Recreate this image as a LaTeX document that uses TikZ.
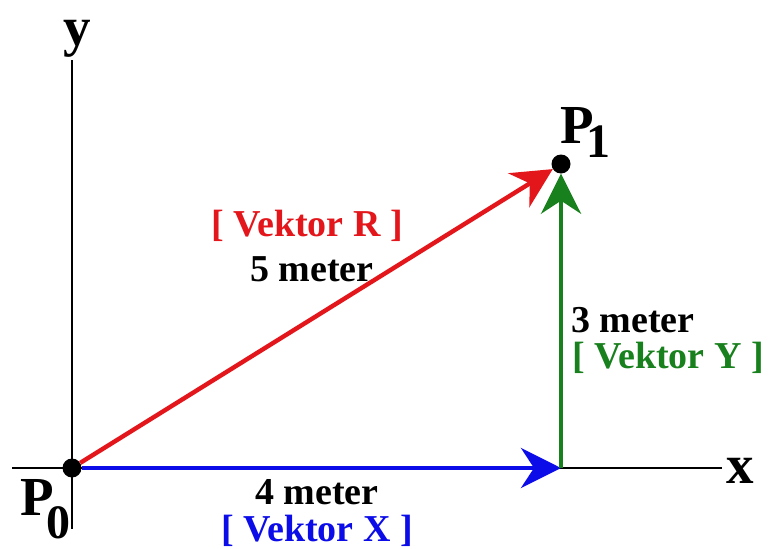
\documentclass[tikz,border=0pt]{standalone}
\usepackage{fontspec}
\setmainfont{Liberation Serif}
\usetikzlibrary{arrows.meta,positioning}
\definecolor{vecred}{HTML}{E3161B}
\definecolor{vecgreen}{HTML}{18801C}
\definecolor{vecblue}{HTML}{0C0CE8}

\begin{document}
\begin{tikzpicture}[
  x=1pt, y=-1pt,
  >={Stealth[length=40pt,width=40pt,inset=13pt]},
  axis/.style={draw=black, line width=2.8pt},
  vec/.style={->, line width=4.4pt},
  dot/.style={circle, fill=black, inner sep=0pt, minimum size=19pt},
  lbl/.style={font=\fontsize{38}{40}\selectfont\bfseries, inner sep=0pt},
  pnt/.style={font=\fontsize{55}{58}\selectfont\bfseries, inner sep=0pt}
]
  \useasboundingbox (0,0) rectangle (772,549);

  % axes
  \coordinate (xl) at (12,468);
  \coordinate (xr) at (722,468);
  \coordinate (yt) at (72,60);
  \coordinate (yb) at (72,529);
  \draw[axis] (xl) -- (xr);
  \draw[axis] (yt) -- (yb);
  \node[pnt, anchor=base west] (xlab) at (726,483) {x};
  \node[pnt, anchor=base west] (ylab) at (63,45) {y};

  % points
  \node[dot] (p0) at (72,468) {};
  \node[dot] (p1) at (561,164) {};
  \coordinate (q) at (561,468);
  \node[pnt, anchor=base west] (p0lab) at (20,515) {P\kern-7pt\raisebox{-23pt}{\fontsize{48}{50}\selectfont 0}};
  \node[pnt, anchor=base west] (p1lab) at (560,143) {P\kern-7pt\raisebox{-14pt}{\fontsize{48}{50}\selectfont 1}};

  % vectors
  \draw[vec, vecblue] (p0) -- (q);
  \draw[vec, vecgreen] (q) -- (p1);
  \draw[vec, vecred] (p0) -- (p1);

  % labels
  \node[lbl, text=vecred, anchor=base] (rname) at (307,236) {[ Vektor R ]};
  \node[lbl, anchor=base] (rlen) at (312,281) {5 meter};
  \node[lbl, anchor=base west] (ylen) at (571,332) {3 meter};
  \node[lbl, text=vecgreen, anchor=base west] (yname) at (572,368) {[ Vektor Y ]};
  \node[lbl, anchor=base] (xlen) at (317,504) {4 meter};
  \node[lbl, text=vecblue, anchor=base] (xname) at (317,541) {[ Vektor X ]};
\end{tikzpicture}
\end{document}
